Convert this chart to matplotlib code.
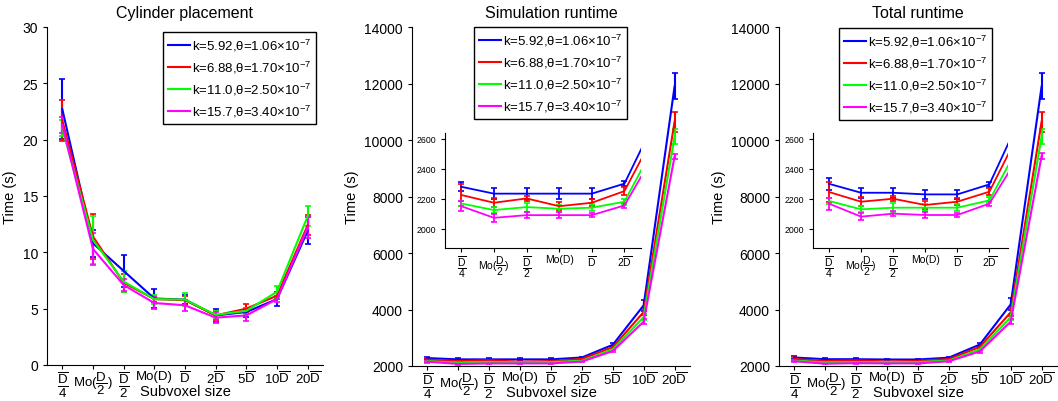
import matplotlib
matplotlib.use('Agg')
import matplotlib.pyplot as plt

plt.rcParams['font.family'] = 'Liberation Sans'
plt.rcParams['mathtext.fontset'] = 'custom'
plt.rcParams['mathtext.rm'] = 'Liberation Sans'
plt.rcParams['mathtext.it'] = 'Liberation Sans:italic'
plt.rcParams['mathtext.bf'] = 'Liberation Sans:bold'

# subvoxel sizes (x axis)
sizes = [r'$\dfrac{\overline{\mathrm{D}}}{4}$', r'$\mathrm{Mo}(\dfrac{\mathrm{D}}{2})$',
         r'$\dfrac{\overline{\mathrm{D}}}{2}$', 'Mo(D)', r'$\overline{\mathrm{D}}$',
         r'$2\overline{\mathrm{D}}$', r'$5\overline{\mathrm{D}}$',
         r'$10\overline{\mathrm{D}}$', r'$20\overline{\mathrm{D}}$']
xpos = list(range(1, len(sizes) + 1))

labels = [r'k=5.92,θ=1.06×10$^{-7}$', r'k=6.88,θ=1.70×10$^{-7}$',
          r'k=11.0,θ=2.50×10$^{-7}$', r'k=15.7,θ=3.40×10$^{-7}$']
colors = ['#0000ff', '#ff0000', '#00ff00', '#ff00ff']

# cylinder placement time (s)
cyl_blue = [22.7, 10.8, 8.35, 5.9, 5.8, 4.4, 4.7, 5.85, 11.9]
cyl_red = [21.7, 11.4, 7.3, 5.85, 5.75, 4.4, 5.0, 6.15, 12.4]
cyl_green = [21.0, 11.1, 7.4, 5.85, 5.8, 4.45, 4.8, 6.5, 13.2]
cyl_mag = [21.3, 10.3, 7.1, 5.5, 5.3, 4.2, 4.4, 5.85, 12.2]
cyl_blue_err = [2.65, 1.2, 1.4, 0.8, 0.4, 0.6, 0.4, 0.65, 1.2]
cyl_red_err = [1.8, 2.0, 0.8, 0.3, 0.4, 0.4, 0.4, 0.3, 0.9]
cyl_green_err = [0.7, 2.1, 0.9, 0.4, 0.6, 0.3, 0.3, 0.55, 0.9]
cyl_mag_err = [0.7, 1.4, 0.5, 0.5, 0.5, 0.5, 0.5, 0.3, 0.9]

# simulation runtime (s)
sim_blue = [2280, 2234, 2234, 2234, 2234, 2301, 2750, 4150, 11900]
sim_red = [2225, 2173, 2202, 2150, 2173, 2251, 2665, 3910, 10650]
sim_green = [2168, 2124, 2144, 2133, 2140, 2180, 2590, 3730, 10120]
sim_mag = [2150, 2072, 2090, 2090, 2090, 2155, 2530, 3570, 9420]
sim_blue_err = [30, 35, 35, 35, 35, 15, 50, 200, 460]
sim_red_err = [75, 30, 15, 25, 25, 25, 50, 120, 350]
sim_green_err = [20, 20, 30, 25, 25, 20, 40, 100, 260]
sim_mag_err = [35, 25, 20, 20, 15, 15, 40, 100, 100]

# total runtime (s)
tot_blue = [2300, 2240, 2240, 2229, 2229, 2296, 2759, 4180, 11900]
tot_red = [2245, 2180, 2200, 2158, 2180, 2247, 2673, 3900, 10650]
tot_green = [2185, 2129, 2140, 2140, 2140, 2189, 2587, 3725, 10120]
tot_mag = [2167, 2080, 2100, 2091, 2091, 2167, 2515, 3570, 9430]
tot_blue_err = [40, 35, 35, 30, 30, 15, 50, 210, 460]
tot_red_err = [70, 30, 15, 25, 25, 25, 50, 120, 350]
tot_green_err = [20, 20, 30, 25, 25, 20, 40, 100, 260]
tot_mag_err = [40, 25, 15, 20, 15, 15, 40, 100, 100]

cyl = [cyl_blue, cyl_red, cyl_green, cyl_mag]
cyl_err = [cyl_blue_err, cyl_red_err, cyl_green_err, cyl_mag_err]
sim = [sim_blue, sim_red, sim_green, sim_mag]
sim_err = [sim_blue_err, sim_red_err, sim_green_err, sim_mag_err]
tot = [tot_blue, tot_red, tot_green, tot_mag]
tot_err = [tot_blue_err, tot_red_err, tot_green_err, tot_mag_err]

fig = plt.figure(figsize=(10.58, 4.02), dpi=100)


def style(ax, fs):
    for s in ['top', 'right']:
        ax.spines[s].set_visible(False)
    ax.tick_params(direction='out', length=3, width=0.8, labelsize=fs)


def draw(ax, means, errs, lw=1.5):
    lines = []
    for m, e, c in zip(means, errs, colors):
        h = ax.errorbar(xpos, m, yerr=e, color=c, lw=lw, elinewidth=lw,
                        capsize=2.5, capthick=1.2)
        lines.append(h[0])
    return lines


def main_panel(rect, means, errs, title, ylim, yticks, leg_loc, leg_anchor):
    ax = fig.add_axes(rect)
    lines = draw(ax, means, errs)
    style(ax, 10)
    ax.set_xlim(0.5, 9.5)
    ax.set_ylim(*ylim)
    ax.set_yticks(yticks)
    ax.set_xticks(xpos)
    ax.set_xticklabels(sizes, fontsize=9.5)
    ax.tick_params(axis='x', pad=0.5)
    ax.set_title(title, fontsize=11.5, pad=7)
    ax.set_ylabel('Time (s)', fontsize=10.5)
    ax.set_xlabel('Subvoxel size', fontsize=10.5)
    ax.xaxis.set_label_coords(0.5, -0.057)
    leg = ax.legend(lines, labels, loc=leg_loc, bbox_to_anchor=leg_anchor,
                    borderaxespad=0, fontsize=9.5, handlelength=1.7,
                    handletextpad=0.15, labelspacing=0.45, borderpad=0.35,
                    fancybox=False, framealpha=1, edgecolor='black')
    leg.get_frame().set_linewidth(1.0)
    return ax


def inset(rect, means, errs, xmax):
    ax = fig.add_axes(rect)
    draw(ax, means, errs, lw=1.3)
    style(ax, 6.3)
    ax.set_xlim(0.5, xmax)
    ax.set_ylim(1870, 2640)
    ax.set_yticks([2000, 2200, 2400, 2600])
    ax.set_xticks(xpos[:6])
    ax.set_xticklabels(sizes[:6], fontsize=7.5)
    ax.tick_params(axis='x', pad=1)
    return ax


main_panel([0.0444, 0.0896, 0.2609, 0.8408], cyl, cyl_err, 'Cylinder placement',
           (0, 30), range(0, 31, 5), 'upper right', (0.975, 0.985))
main_panel([0.3894, 0.0871, 0.2628, 0.843], sim, sim_err, 'Simulation runtime',
           (2000, 14000), range(2000, 14001, 2000), 'upper left', (0.223, 1.0))
main_panel([0.7363, 0.0871, 0.2628, 0.843], tot, tot_err, 'Total runtime',
           (2000, 14000), range(2000, 14001, 2000), 'upper left', (0.217, 0.997))

inset([0.4206, 0.3806, 0.185, 0.286], sim, sim_err, 6.5)
inset([0.7684, 0.3806, 0.184, 0.286], tot, tot_err, 6.57)

fig.savefig('out.png', dpi=100)
